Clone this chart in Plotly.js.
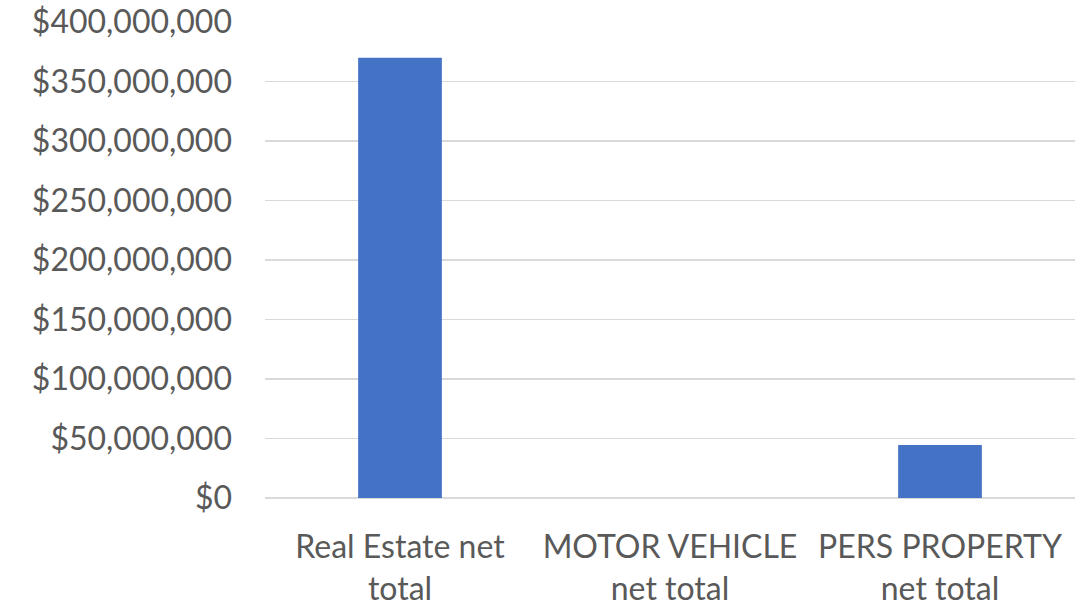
<!DOCTYPE html>
<html>
<head>
<meta charset="utf-8">
<script src="https://cdn.plot.ly/plotly-3.0.1.min.js"></script>
<style>
  html, body { margin: 0; padding: 0; background: #fff; }
  #chart { width: 1087px; height: 610px; }
</style>
</head>
<body>
<div id="chart"></div>
<script>
// Net totals by property category
const categories = ['Real Estate net<br>total', 'MOTOR VEHICLE<br>net total', 'PERS PROPERTY<br>net total'];
const netTotals = [370000000, 0, 44500000];
const tickValues = [0, 50000000, 100000000, 150000000, 200000000, 250000000, 300000000, 350000000, 400000000];

const fmt = v => '$' + v.toLocaleString('en-US');

// paper spans 0..1075px; plot area starts at 265px, labels end near 228px
const paperW = 1075;

const data = [{
    x: categories,
    y: netTotals,
    type: 'bar',
    width: 0.31,
    marker: { color: '#4472c4' },
    hovertemplate: '%{y:$,.0f}<extra></extra>'
}];

const layout = {
    width: 1087,
    height: 610,
    margin: { l: 0, r: 12, t: 22, b: 112 },
    paper_bgcolor: '#ffffff',
    plot_bgcolor: '#ffffff',
    font: { family: 'Lato, "Open Sans", sans-serif', size: 32, color: '#595959' },
    showlegend: false,
    xaxis: {
        domain: [265 / paperW, 1],
        showgrid: false,
        showline: false,
        zeroline: false,
        ticks: '',
        ticklabelstandoff: 27,
        tickfont: { size: 32, color: '#595959' }
    },
    yaxis: {
        anchor: 'free',
        position: 232 / paperW,
        range: [0, 400000000],
        tickvals: tickValues,
        ticktext: tickValues.map(fmt),
        showgrid: true,
        gridcolor: '#d9d9d9',
        gridwidth: 1.5,
        zeroline: true,
        zerolinecolor: '#d9d9d9',
        zerolinewidth: 2,
        showline: false,
        ticks: '',
        tickfont: { size: 32, color: '#595959' }
    }
};

window.Plotly.newPlot('chart', data, layout, { displayModeBar: false, staticPlot: true });
</script>
</body>
</html>
